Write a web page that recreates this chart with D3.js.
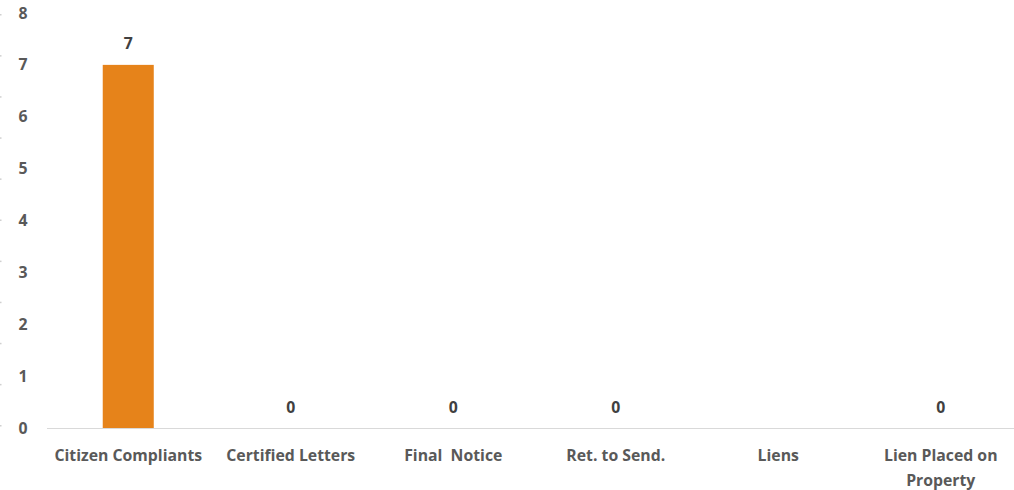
<!DOCTYPE html>
<html>
<head>
<meta charset="utf-8">
<script src="https://cdn.jsdelivr.net/npm/d3@7"></script>
<style>
  body { margin: 0; background: #fff; }
  svg { display: block; }
</style>
</head>
<body>
<div id="chart"></div>
<script>
// chart data
var categories = ["Citizen Compliants", "Certified Letters", "Final  Notice", "Ret. to Send.", "Liens", "Lien Placed on Property"];
var values = [7, 0, 0, 0, null, 0];
var yTicks = [0, 1, 2, 3, 4, 5, 6, 7, 8];

var width = 1014, height = 490;
var fontFam = "Open Sans, Liberation Sans, sans-serif";
var fontSize = "15.8px";

var svg = d3.select("#chart").append("svg")
    .attr("width", width)
    .attr("height", height);

var x = d3.scaleBand()
    .domain(categories)
    .range([47, 1022])
    .paddingInner(0.686)
    .paddingOuter(0.343);

var y = d3.scaleLinear()
    .domain([0, 8])
    .range([428, 13]);

// tiny faint marks on the left edge
svg.selectAll("rect.edge")
    .data(d3.range(11))
    .enter().append("rect")
    .attr("class", "edge")
    .attr("x", 0).attr("width", 1.5)
    .attr("y", function(d) { return 14 + d * 41.1; })
    .attr("height", 1.5)
    .attr("fill", "#d0d0d0");

// y tick labels
svg.selectAll("text.ytick")
    .data(yTicks)
    .enter().append("text")
    .attr("class", "ytick")
    .attr("x", 23)
    .attr("y", function(d) { return y(d); })
    .attr("dy", "0.35em")
    .attr("text-anchor", "middle")
    .style("font-family", fontFam)
    .style("font-size", fontSize)
    .style("font-weight", "bold")
    .style("fill", "#595959")
    .text(function(d) { return d; });

// baseline
svg.append("line")
    .attr("x1", 47).attr("x2", 1014)
    .attr("y1", y(0) + 0.5).attr("y2", y(0) + 0.5)
    .attr("stroke", "#d9d9d9")
    .attr("stroke-width", 1);

// bars
svg.selectAll("rect.bar")
    .data(categories)
    .enter().append("rect")
    .attr("class", "bar")
    .attr("x", function(d) { return x(d); })
    .attr("width", x.bandwidth())
    .attr("y", function(d, i) { return y(values[i] || 0); })
    .attr("height", function(d, i) { return y(0) - y(values[i] || 0); })
    .attr("fill", "#E6831A");

// value labels
svg.selectAll("text.val")
    .data(categories)
    .enter().append("text")
    .attr("class", "val")
    .filter(function(d, i) { return values[i] !== null; })
    .attr("x", function(d) { return x(d) + x.bandwidth() / 2; })
    .attr("y", function(d) {
        var i = categories.indexOf(d);
        return y(values[i]) - 21;
    })
    .attr("dy", "0.35em")
    .attr("text-anchor", "middle")
    .style("font-family", fontFam)
    .style("font-size", fontSize)
    .style("font-weight", "bold")
    .style("fill", "#404040")
    .text(function(d) { return values[categories.indexOf(d)]; });

// category labels, wrapped where too long
var catLabels = svg.selectAll("text.cat")
    .data(categories)
    .enter().append("text")
    .attr("class", "cat")
    .attr("text-anchor", "middle")
    .style("font-family", fontFam)
    .style("font-size", fontSize)
    .style("font-weight", "bold")
    .style("fill", "#595959");

catLabels.each(function(d) {
    var lines = d === "Lien Placed on Property" ? ["Lien Placed on", "Property"] : [d];
    var t = d3.select(this);
    lines.forEach(function(l, k) {
        t.append("tspan")
            .attr("x", x(d) + x.bandwidth() / 2)
            .attr("y", 455 + k * 25)
            .attr("dy", "0.35em")
            .style("white-space", "pre")
            .text(l);
    });
});
</script>
</body>
</html>
